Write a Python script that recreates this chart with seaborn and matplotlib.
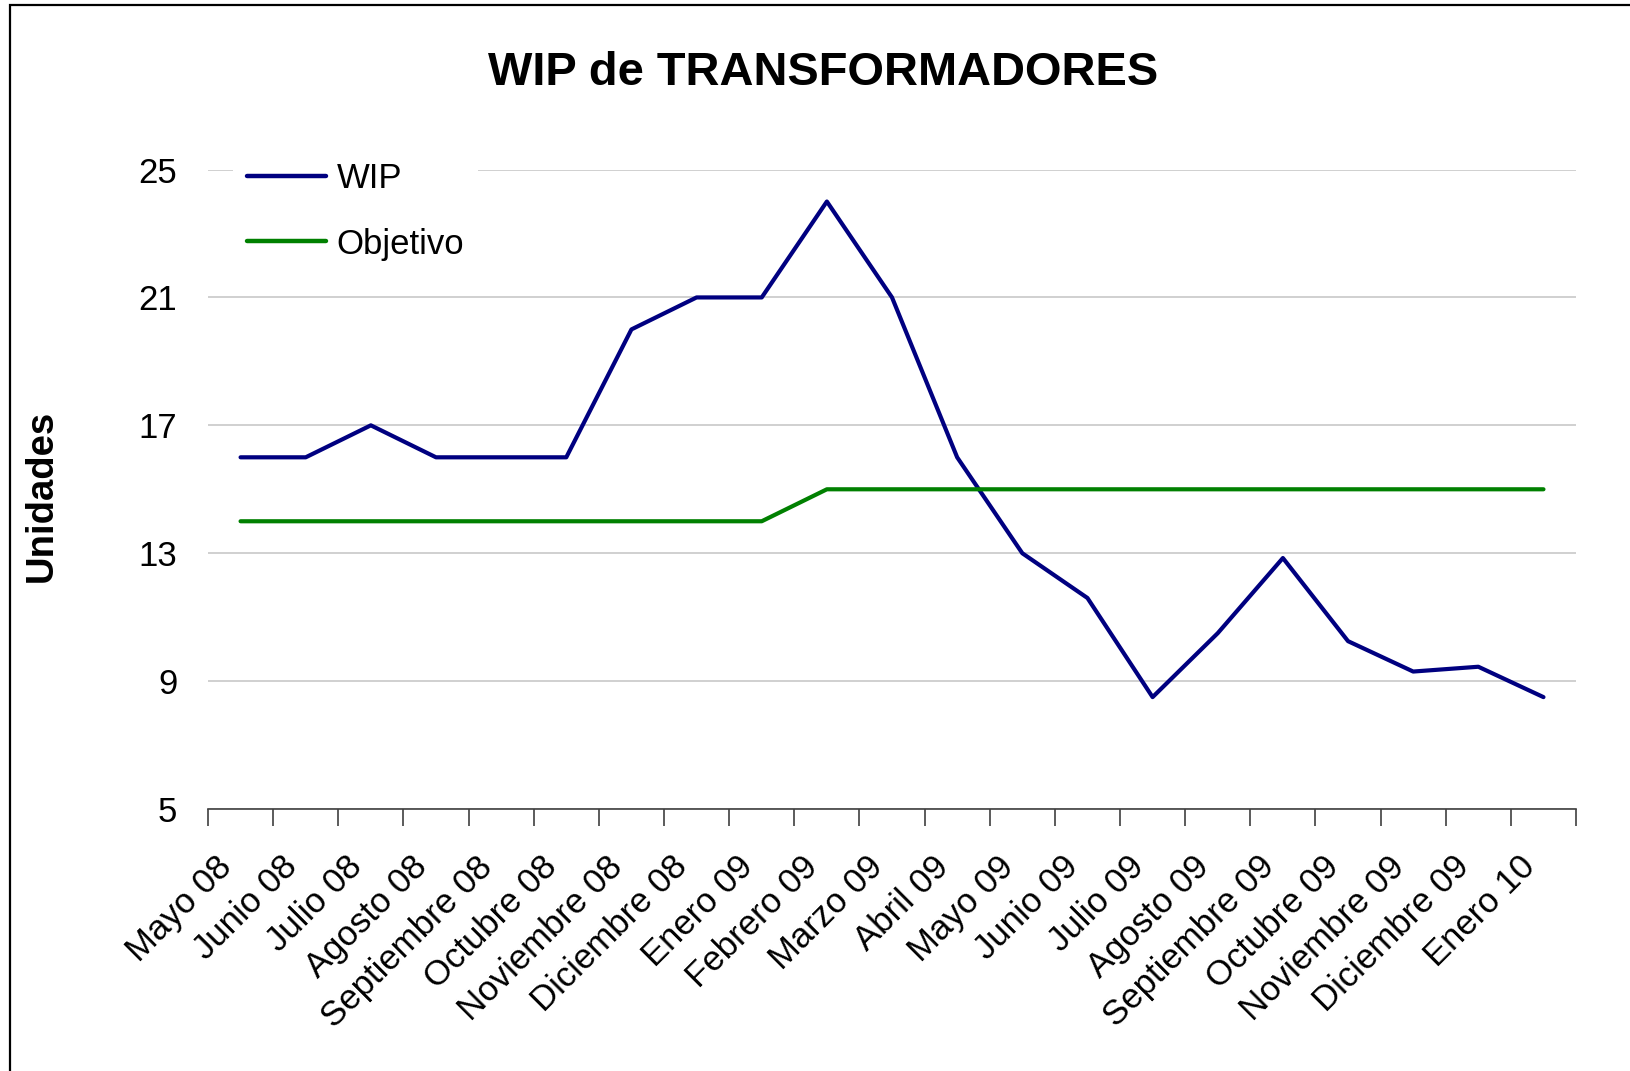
import numpy as np
import pandas as pd
import seaborn as sns
import matplotlib.pyplot as plt
from matplotlib.patches import Rectangle
from matplotlib.transforms import ScaledTranslation

# datos
meses = ['Mayo 08', 'Junio 08', 'Julio 08', 'Agosto 08', 'Septiembre 08', 'Octubre 08',
         'Noviembre 08', 'Diciembre 08', 'Enero 09', 'Febrero 09', 'Marzo 09', 'Abril 09',
         'Mayo 09', 'Junio 09', 'Julio 09', 'Agosto 09', 'Septiembre 09', 'Octubre 09',
         'Noviembre 09', 'Diciembre 09', 'Enero 10']
wip = [16, 16, 17, 16, 16, 16, 20, 21, 21, 24, 21, 16, 13, 11.6, 8.5, 10.5, 12.85, 10.25,
       9.3, 9.45, 8.5]
objetivo = [14, 14, 14, 14, 14, 14, 14, 14, 14, 15, 15, 15, 15, 15, 15, 15, 15, 15, 15, 15, 15]
y_ticks = [5, 9, 13, 17, 21, 25]

df = pd.DataFrame({
    'mes': meses + meses,
    'valor': wip + objetivo,
    'serie': ['WIP'] * len(meses) + ['Objetivo'] * len(meses),
})

sns.set_theme(style='white')
plt.rcParams['font.family'] = ['Liberation Sans', 'DejaVu Sans']
plt.rcParams['text.color'] = 'black'

fig = plt.figure(figsize=(16.3, 10.71), dpi=100)
ax = fig.add_axes([0.1276, 0.2446, 0.8393, 0.5971])

sns.lineplot(data=df, x='mes', y='valor', hue='serie', sort=False,
             palette={'WIP': '#000080', 'Objetivo': '#008000'},
             linewidth=3, ax=ax)

# ejes
ax.set_xlim(-0.5, len(meses) - 0.5)
ax.set_ylim(5, 25)
ax.set_yticks(y_ticks)
ax.set_xticks(range(len(meses)))
ax.set_xticklabels(meses, rotation=45, ha='right', va='center', rotation_mode='anchor')
ax.set_xticks(np.arange(-0.5, len(meses)), minor=True)
ax.tick_params(axis='x', which='major', length=0, pad=38, labelsize=25, colors='black')
ax.tick_params(axis='x', which='minor', length=12, width=1.2, color='#404040', direction='out',
               bottom=True)
ax.tick_params(axis='y', length=0, pad=22, labelsize=25, colors='black')
# corrimiento de las etiquetas rotadas hacia la izquierda
offset = ScaledTranslation(-10 / 72, 0, fig.dpi_scale_trans)
for lbl in ax.get_xticklabels():
    lbl.set_transform(lbl.get_transform() + offset)
ax.yaxis.grid(True, color='#c4c4c4', linewidth=1.1)
ax.xaxis.grid(False)
ax.set_axisbelow(True)
for s in ['left', 'top', 'right']:
    ax.spines[s].set_visible(False)
ax.spines['bottom'].set_color('#404040')
ax.spines['bottom'].set_linewidth(1.2)
ax.set_xlabel('')
ax.set_ylabel('')

# leyenda
leg = ax.legend(loc='upper left', bbox_to_anchor=(0.018, 1.033), fontsize=25,
                frameon=True, facecolor='white', edgecolor='none', framealpha=1,
                handlelength=2.3, handletextpad=0.3, labelspacing=0.93,
                borderaxespad=0, borderpad=0.4)
for line in leg.get_lines():
    line.set_linewidth(3.2)

# titulos
fig.text(0.505, 0.9317, 'WIP de TRANSFORMADORES', ha='center', va='center',
         fontsize=33.8, fontweight='bold', color='black')
fig.text(0.0255, 0.537, 'Unidades', ha='center', va='center', rotation=90,
         fontsize=27.5, fontweight='bold', color='black')

# marco
fig.patches.append(Rectangle((10 / 1630, -0.1), 1.2, 1.1 - 5 / 1071, fill=False,
                             edgecolor='black', linewidth=1.6,
                             transform=fig.transFigure, figure=fig))

fig.savefig('out.png', dpi=100)
